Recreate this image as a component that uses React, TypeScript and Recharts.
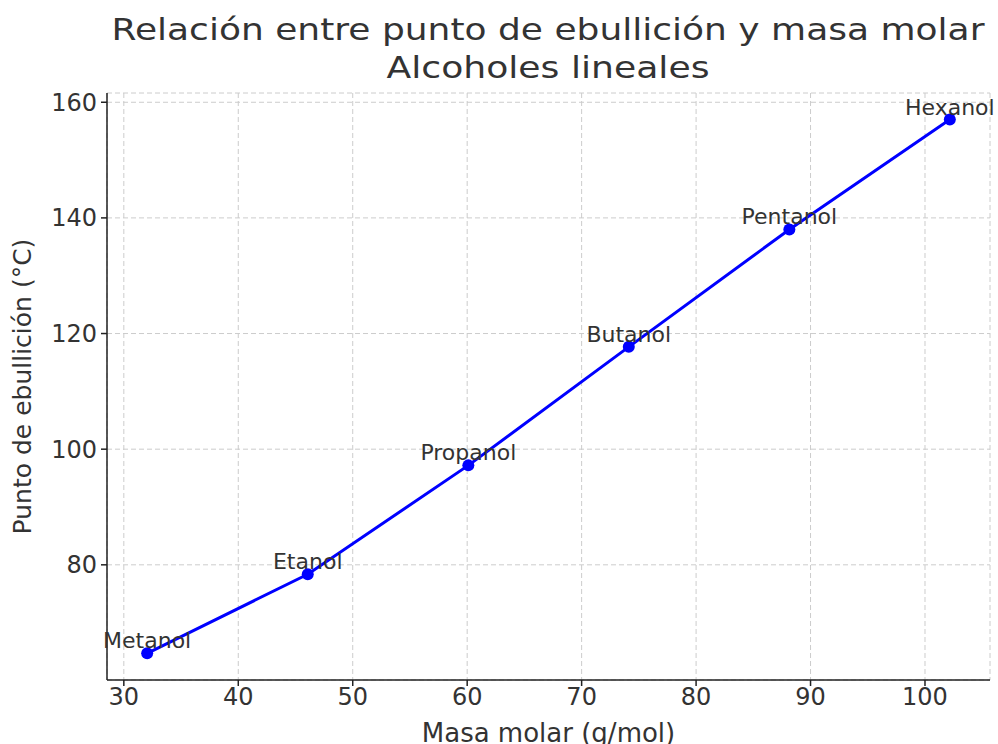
import { LineChart, Line, XAxis, YAxis, CartesianGrid, LabelList, Label } from "recharts";

const alcoholes = ["Metanol", "Etanol", "Propanol", "Butanol", "Pentanol", "Hexanol"];
const masaMolar = [32.04, 46.07, 60.1, 74.12, 88.15, 102.17];
const puntoEbullicion = [64.7, 78.37, 97.2, 117.7, 138, 157];
const xTicks = [30, 40, 50, 60, 70, 80, 90, 100];
const yTicks = [80, 100, 120, 140, 160];

const data = alcoholes.map((nombre, i) => ({
  nombre,
  masa: masaMolar[i],
  punto: puntoEbullicion[i],
}));

const FONT = "'DejaVu Sans'";
const TEXT = "#333333";

function NombreLabel(props: any) {
  const { x, y, value } = props;
  return (
    <text x={x} y={y - 5} textAnchor="middle" fill={TEXT} fontSize={22} style={{ fontFamily: FONT }}>
      {value}
    </text>
  );
}

export default function App() {
  return (
    <div style={{ position: "absolute", left: 0, top: 0, width: 998, height: 744, background: "#fff", fontFamily: FONT }}>
      <svg width={998} height={100} style={{ position: "absolute", left: 0, top: 0, fontFamily: FONT }}>
        <text x={548} y={40} textAnchor="middle" fill={TEXT} fontSize={31} textLength={873} lengthAdjust="spacingAndGlyphs">
          Relación entre punto de ebullición y masa molar
        </text>
        <text x={548} y={78} textAnchor="middle" fill={TEXT} fontSize={31} textLength={323} lengthAdjust="spacingAndGlyphs">
          Alcoholes lineales
        </text>
      </svg>
      <LineChart
        width={998}
        height={744}
        data={data}
        margin={{ top: 93, right: 8, bottom: 24, left: 47 }}
        style={{ position: "absolute", left: 0, top: 0, fontFamily: FONT }}
      >
        <CartesianGrid stroke="#cccccc" strokeDasharray="5 3" />
        <XAxis
          type="number"
          dataKey="masa"
          domain={[28.53, 105.68]}
          ticks={xTicks}
          allowDataOverflow
          height={40}
          tickSize={6}
          tickMargin={2}
          stroke="#222"
          strokeWidth={1.5}
          tick={{ fill: TEXT, fontSize: 24 }}
        >
          <Label
            value="Masa molar (g/mol)"
            position="insideBottom"
            offset={-22}
            fill={TEXT}
            fontSize={26}
          />
        </XAxis>
        <YAxis
          type="number"
          domain={[60.08, 161.6]}
          ticks={yTicks}
          allowDataOverflow
          width={60}
          tickSize={6}
          tickMargin={4}
          stroke="#222"
          strokeWidth={1.5}
          tick={{ fill: TEXT, fontSize: 24 }}
        >
          <Label
            value="Punto de ebullición (°C)"
            angle={-90}
            position="center"
            dx={-55}
            fill={TEXT}
            fontSize={25}
          />
        </YAxis>
        <Line
          dataKey="punto"
          stroke="#0000ff"
          strokeWidth={3}
          dot={{ r: 6, fill: "#0000ff", stroke: "none" }}
          isAnimationActive={false}
        >
          <LabelList dataKey="nombre" content={NombreLabel} />
        </Line>
      </LineChart>
    </div>
  );
}
